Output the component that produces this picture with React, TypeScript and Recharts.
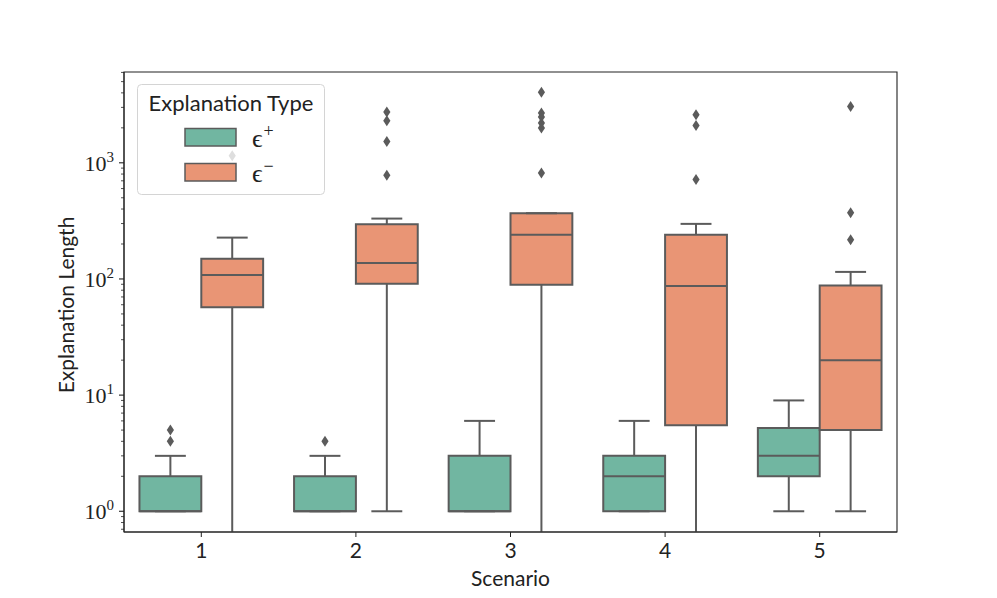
import * as React from "react"
import {
  ComposedChart,
  XAxis,
  YAxis,
  Scatter,
  ReferenceArea,
  ReferenceLine,
  Label,
} from "recharts"

// scenario numbers on the x axis
const scenarios = [1, 2, 3, 4, 5]

// epsilon+ box stats
const posLow = [1, 1, 1, 1, 1]
const posQ1 = [1, 1, 1, 1, 2]
const posMedian = [1, 1, 1, 2, 3]
const posQ3 = [2, 2, 3, 3, 5.2]
const posHigh = [3, 3, 6, 6, 9]
const posOutliers = [[4, 5], [4], [], [], []]

// epsilon- box stats, 0 = whisker runs off the bottom of the log axis
const negLow = [0, 1, 0, 0, 1]
const negQ1 = [57, 91, 89, 5.5, 5]
const negMedian = [108, 137, 240, 87, 20]
const negQ3 = [149, 296, 368, 240, 88]
const negHigh = [227, 331, 368, 298, 115]
const negOutliers = [
  [1150],
  [783, 1527, 2302, 2735],
  [815, 1990, 2198, 2477, 2680, 4040],
  [718, 2098, 2594],
  [218, 371, 3057],
]

const Y_MIN = 0.663
const Y_MAX = 6050
const yTicks = [0.1, 1, 10, 100, 1000]
  .flatMap((d) => [1, 2, 3, 4, 5, 6, 7, 8, 9].map((m) => +(m * d).toPrecision(3)))
  .filter((v) => v >= Y_MIN && v <= Y_MAX)

const POS_COLOR = "#71b6a1"
const NEG_COLOR = "#e99575"
const EDGE = "#5b5b5b"
const AXIS = "#222"
const SANS = "Lato, sans-serif"
const SERIF = "'Liberation Serif', serif"

const HALF = 0.4 // width of one box in x units
const CAP = 0.1 // half width of whisker caps

const LogTick = ({ x, y, payload }: any) => {
  const v = payload.value
  const e = Math.log10(v)
  const major = Math.abs(e - Math.round(e)) < 1e-6
  return (
    <g>
      <line x1={x} x2={x - (major ? 5 : 3)} y1={y} y2={y} stroke={AXIS} strokeWidth={major ? 1.1 : 0.8} />
      {major && (
        <text x={x - 10} y={y + 8} textAnchor="end" fontFamily={SERIF} fontSize={22} fill={AXIS}>
          10
          <tspan dy={-9} fontSize={15}>{Math.round(e)}</tspan>
        </text>
      )}
    </g>
  )
}

const Diamond = ({ cx, cy }: any) => (
  <path d={`M${cx},${cy - 5.5}L${cx + 3.6},${cy}L${cx},${cy + 5.5}L${cx - 3.6},${cy}Z`} fill={EDGE} />
)

function boxElements(
  prefix: string,
  side: number,
  color: string,
  low: number[],
  q1: number[],
  med: number[],
  q3: number[],
  high: number[]
) {
  const els: React.ReactNode[] = []
  scenarios.forEach((s, i) => {
    const x1 = side < 0 ? s - HALF : s
    const x2 = side < 0 ? s : s + HALF
    const xc = (x1 + x2) / 2
    const lo = Math.max(low[i], Y_MIN)
    // whiskers
    els.push(
      <ReferenceLine key={`${prefix}wl${i}`} segment={[{ x: xc, y: lo }, { x: xc, y: q1[i] }]} stroke={EDGE} strokeWidth={2} />
    )
    els.push(
      <ReferenceLine key={`${prefix}wh${i}`} segment={[{ x: xc, y: q3[i] }, { x: xc, y: high[i] }]} stroke={EDGE} strokeWidth={2} />
    )
    if (low[i] > 0) {
      els.push(
        <ReferenceLine key={`${prefix}cl${i}`} segment={[{ x: xc - CAP, y: low[i] }, { x: xc + CAP, y: low[i] }]} stroke={EDGE} strokeWidth={2} />
      )
    }
    els.push(
      <ReferenceLine key={`${prefix}ch${i}`} segment={[{ x: xc - CAP, y: high[i] }, { x: xc + CAP, y: high[i] }]} stroke={EDGE} strokeWidth={2} />
    )
    // box
    els.push(
      <ReferenceArea
        key={`${prefix}b${i}`}
        x1={x1}
        x2={x2}
        y1={q1[i]}
        y2={q3[i]}
        fill={color}
        fillOpacity={1}
        stroke={EDGE}
        strokeWidth={2}
      />
    )
    els.push(
      <ReferenceLine key={`${prefix}m${i}`} segment={[{ x: x1, y: med[i] }, { x: x2, y: med[i] }]} stroke={EDGE} strokeWidth={2} />
    )
  })
  return els
}

const posPoints = scenarios.flatMap((s, i) => posOutliers[i].map((v) => ({ x: s - HALF / 2, y: v })))
const negPoints = scenarios.flatMap((s, i) => negOutliers[i].map((v) => ({ x: s + HALF / 2, y: v })))

const legendItems = [
  { color: POS_COLOR, sign: "+", top: 44.5 },
  { color: NEG_COLOR, sign: "−", top: 79.5 },
]

export default function App() {
  return (
    <div style={{ position: "absolute", left: 0, top: 0, width: 997, height: 598, background: "white" }}>
      <ComposedChart width={997} height={598} margin={{ top: 72, right: 100, bottom: 36, left: 64 }}>
        <XAxis
          dataKey="x"
          type="number"
          domain={[0.5, 5.5]}
          ticks={scenarios}
          allowDataOverflow
          height={30}
          tickSize={5}
          tickMargin={6}
          interval={0}
          stroke={AXIS}
          tick={{ fontFamily: SANS, fontSize: 21, fill: AXIS }}
        >
          <Label
            content={({ viewBox }: any) => (
              <text x={viewBox.x + viewBox.width / 2} y={586} textAnchor="middle" fontFamily={SANS} fontSize={21} fill={AXIS}>
                Scenario
              </text>
            )}
          />
        </XAxis>
        <YAxis
          dataKey="y"
          scale="log"
          domain={[Y_MIN, Y_MAX]}
          allowDataOverflow
          ticks={yTicks}
          interval={0}
          width={60}
          tickSize={0}
          tickMargin={0}
          tickLine={false}
          stroke={AXIS}
          tick={<LogTick />}
        >
          <Label
            content={() => (
              <text x={74} y={305} transform="rotate(-90 74 305)" textAnchor="middle" fontFamily={SANS} fontSize={21} fill={AXIS}>
                Explanation Length
              </text>
            )}
          />
        </YAxis>
        {/* plot frame */}
        <ReferenceArea x1={0.5} x2={5.5} y1={Y_MIN} y2={Y_MAX} fill="none" stroke={AXIS} strokeWidth={1.1} ifOverflow="visible" />
        {boxElements("p", -1, POS_COLOR, posLow, posQ1, posMedian, posQ3, posHigh)}
        {boxElements("n", 1, NEG_COLOR, negLow, negQ1, negMedian, negQ3, negHigh)}
        <Scatter data={posPoints} shape={<Diamond />} isAnimationActive={false} />
        <Scatter data={negPoints} shape={<Diamond />} isAnimationActive={false} />
      </ComposedChart>
      <svg width={188} height={111} style={{ position: "absolute", left: 137, top: 84 }}>
        <rect x={0.5} y={0.5} width={187} height={110} rx={4} fill="white" fillOpacity={0.8} stroke="#d4d4d4" />
        <text x={94} y={27} textAnchor="middle" fontFamily={SANS} fontSize={22} fill={AXIS}>
          Explanation Type
        </text>
        {legendItems.map((it) => (
          <g key={it.sign}>
            <rect x={48} y={it.top} width={51} height={17.5} fill={it.color} stroke={EDGE} strokeWidth={1.5} />
            <text x={115} y={it.top + 18} fontFamily={SERIF} fontSize={26} fill={AXIS}>
              ϵ
              <tspan dx={1} dy={-10} fontSize={18}>{it.sign}</tspan>
            </text>
          </g>
        ))}
      </svg>
    </div>
  )
}
